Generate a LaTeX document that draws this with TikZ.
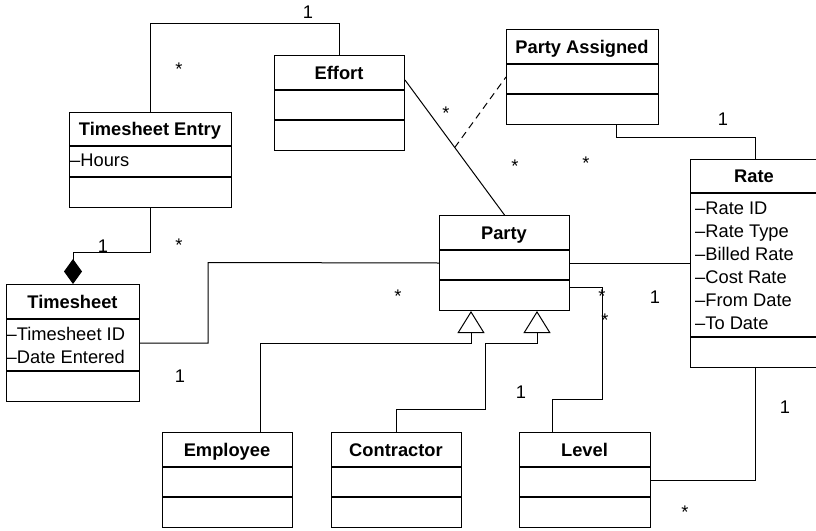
\documentclass[tikz,border=0pt]{standalone}
\usepackage{fontspec}
\setmainfont{Liberation Sans}
\usetikzlibrary{arrows.meta}
\tikzset{
  classbox/.style={draw, line width=1pt, inner sep=0pt, anchor=north west},
  septline/.style={line width=1.3pt},
  titletext/.style={font=\fontsize{18.3}{22}\selectfont\bfseries, anchor=base, inner sep=0pt},
  attrtext/.style={font=\fontsize{18.3}{22}\selectfont, anchor=base west, inner sep=0pt},
  onelabel/.style={font=\fontsize{18.3}{22}\selectfont, anchor=center, inner sep=0pt},
  starlabel/.style={font=\fontsize{18.3}{22}\selectfont, anchor=base, inner sep=0pt},
  conn/.style={line width=1pt},
  gentip/.style={-{Triangle[open,length=22pt,width=27pt]}},
  comptip/.style={-{Diamond[length=25pt,width=18pt]}},
}
% #1 name, #2 left, #3 top, #4 right, #5 bottom, #6 line1, #7 line2, #8 title
\newcommand\umlclassbox[8]{%
  \node[classbox, minimum width={#4-#2}, minimum height={#5-#3}] (#1) at (#2,#3) {};
  \draw[septline] (#2,#6) -- (#4,#6);
  \draw[septline] (#2,#7) -- (#4,#7);
  \node[titletext] (#1-title) at ({(#2+#4)/2},{(#3+#6)/2+6.5}) {#8};
}
\begin{document}
\begin{tikzpicture}[x=1pt,y=-1pt]
\useasboundingbox (0,0) rectangle (816,530);

% classes
\umlclassbox{effort}{274}{55}{404}{150}{90}{120}{Effort}
\umlclassbox{tsentry}{69}{112}{231}{207}{146}{177}{Timesheet Entry}
\umlclassbox{ts}{6}{284}{139}{401}{319}{371}{Timesheet}
\umlclassbox{pa}{506}{29}{658}{124}{64}{94}{Party Assigned}
\umlclassbox{party}{439}{215}{569}{310}{250}{280}{Party}
\umlclassbox{rate}{690}{159}{818}{367}{193}{337}{Rate}
\umlclassbox{emp}{162}{432}{292}{527}{467}{497}{Employee}
\umlclassbox{con}{331}{432}{461}{527}{467}{497}{Contractor}
\umlclassbox{lvl}{519}{432}{650}{527}{467}{497}{Level}

% attributes
\node[attrtext] (te-a1) at (70,166.5) {\textendash Hours};
\node[attrtext] (ts-a1) at (6.5,340) {\textendash Timesheet ID};
\node[attrtext] (ts-a2) at (6.5,363) {\textendash Date Entered};
\node[attrtext] (rate-a1) at (695,214) {\textendash Rate ID};
\node[attrtext] (rate-a2) at (695,237) {\textendash Rate Type};
\node[attrtext] (rate-a3) at (695,260) {\textendash Billed Rate};
\node[attrtext] (rate-a4) at (695,283) {\textendash Cost Rate};
\node[attrtext] (rate-a5) at (695,306) {\textendash From Date};
\node[attrtext] (rate-a6) at (695,329) {\textendash To Date};

% connectors
\draw[conn] (tsentry.north) -- (tsentry.north |- 0,23) -| (effort.north);
\draw[conn,comptip] (tsentry.south) |- (ts.north |- 0,252) -- (ts.north);
\draw[conn] (ts.east) -| (208,262.5) -- (party.west);
\coordinate (effR) at (effort.east |- 0,80);
\draw[conn] (effR) -- coordinate[midway] (effmid) (party.north);
\draw[conn, dash pattern=on 7pt off 5pt] (effmid) -- (pa.west);
\draw[conn] (pa.south -| 616,0) |- (755,137) -- (rate.north -| 755,0);
\draw[conn] (party.east) -- (party.east -| rate.west);
\draw[conn] (party.east |- 0,287) -| (602,399) -| (lvl.north -| 552,0);
\draw[conn,gentip] (emp.north -| 260,0) |- (471,343) -- (party.south -| 471,0);
\draw[conn,gentip] (con.north -| 396,0) |- (485,409) |- (537,343) -- (party.south -| 537,0);
\draw[conn] (lvl.east) -| (rate.south -| 755,0);

% multiplicities
\node[onelabel] (m1) at (308,12.5) {1};
\node[starlabel] (m2) at (179,75) {*};
\node[onelabel] (m3) at (103,246) {1};
\node[starlabel] (m4) at (179,251) {*};
\node[starlabel] (m5) at (398,302) {*};
\node[onelabel] (m6) at (180,376) {1};
\node[starlabel] (m7) at (446,119) {*};
\node[starlabel] (m8) at (515,172) {*};
\node[starlabel] (m9) at (586,169) {*};
\node[onelabel] (m10) at (723,119) {1};
\node[starlabel] (m11) at (602,302) {*};
\node[starlabel] (m12) at (605,326) {*};
\node[onelabel] (m13) at (655,297) {1};
\node[onelabel] (m14) at (521,392) {1};
\node[onelabel] (m15) at (785,407) {1};
\node[starlabel] (m16) at (685,518) {*};
\end{tikzpicture}
\end{document}
